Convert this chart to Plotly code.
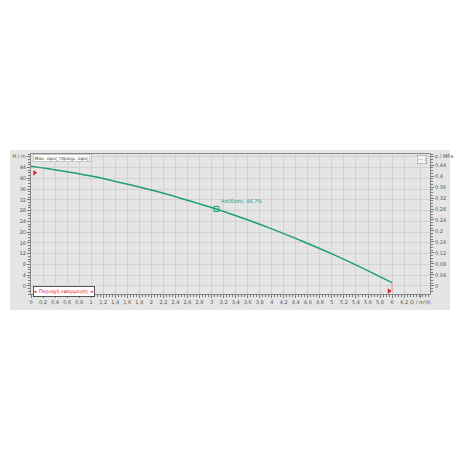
import plotly.graph_objects as go

# data
q_vals = [0, 0.5, 1.0, 1.5, 2.0, 2.5, 3.0, 3.5, 4.0, 4.5, 5.0, 5.5, 6.0]
h_vals = [44.5, 42.8, 40.8, 38.3, 35.6, 32.5, 29.1, 25.3, 21.2, 16.7, 11.9, 6.7, 1.2]
op_q = [3.08]
op_h = [28.6]
op_label = "Απόδοση: 46,7%"
range_start = [0.06, 42.0]
range_end_q = [6.0, 6.0]
range_end_h = [1.2, -2.0]
x_ticks = [round(0.2 * i, 1) for i in range(32)]
x_ticktext = [f"{v:g}".replace(".", ",") for v in x_ticks]
x_ticks = x_ticks + [6.47]
x_ticktext = x_ticktext + ["Q / m³/h"]
h_ticks = list(range(0, 45, 4)) + [48]
h_ticktext = [str(v) for v in range(0, 45, 4)] + ["H / m"]
p_ticks = [round(0.04 * i, 2) for i in range(12)] + [0.472]
p_ticktext = [f"{v:g}".replace(".", ",") for v in p_ticks[:-1]] + ["p / MPa"]

W, H = 460, 460
L, R, T, B = 31, 30, 154, 166
pw, ph = W - L - R, H - T - B
def px(x):
    return (x - L) / pw
def py(y):
    return (H - B - y) / ph

green = "#1f9e78"
tickfont = dict(family="DejaVu Sans", size=5, color="#555555")

fig = go.Figure()
fig.add_trace(go.Scatter(x=q_vals, y=h_vals, mode="lines",
                         line=dict(color=green, width=1.5, shape="spline"),
                         hoverinfo="skip", showlegend=False))
fig.add_trace(go.Scatter(x=range_end_q, y=range_end_h, mode="lines",
                         line=dict(color="#f08a9a", width=1), showlegend=False))
fig.add_trace(go.Scatter(x=op_q, y=op_h, mode="markers",
                         marker=dict(symbol="square-open", size=5, color=green, line=dict(width=1)),
                         showlegend=False))
fig.add_trace(go.Scatter(x=[range_start[0], 5.95], y=[range_start[1], -1.9], mode="markers",
                         marker=dict(symbol="triangle-right", size=5, color="#e0202a"),
                         showlegend=False))
# invisible trace for the right axis
fig.add_trace(go.Scatter(x=[0], y=[0], yaxis="y2", mode="markers",
                         marker=dict(opacity=0), showlegend=False, hoverinfo="skip"))

fig.add_annotation(x=op_q[0] + 0.04, y=op_h[0] + 0.6, text=op_label, showarrow=False,
                   xanchor="left", yanchor="bottom", font=dict(family="DejaVu Sans", size=5, color=green))
fig.add_annotation(xref="paper", yref="paper", x=px(33), y=py(153.5), text="Μαν. ύψος (πραγμ. ύψος)",
                   showarrow=False, xanchor="left", yanchor="top", bgcolor="white",
                   bordercolor="#999999", borderwidth=0.5, borderpad=1,
                   font=dict(family="DejaVu Sans", size=4.5, color="#444444"))
fig.add_annotation(xref="paper", yref="paper", x=px(33), y=py(296.5), text="▸ Περιοχή εφαρμογής ◂",
                   showarrow=False, xanchor="left", yanchor="bottom", bgcolor="white",
                   bordercolor="#333333", borderwidth=0.8, borderpad=1,
                   font=dict(family="DejaVu Sans", size=5, color="#e0202a"))
fig.add_annotation(xref="paper", yref="paper", x=px(427), y=py(155), text="— |",
                   showarrow=False, xanchor="right", yanchor="top", bgcolor="#f4f4f4",
                   bordercolor="#8a8a8a", borderwidth=0.5, borderpad=1,
                   font=dict(family="DejaVu Sans", size=4.5, color=green))

fig.add_shape(type="rect", xref="paper", yref="paper", x0=px(10), x1=px(450), y0=py(310), y1=py(150),
              fillcolor="#e5e5e5", line=dict(width=0), layer="below")

axis_common = dict(showline=True, linecolor="#8a8a8a", linewidth=1, ticks="outside",
                   ticklen=3, tickcolor="#777777", tickfont=tickfont, zeroline=False,
                   automargin=False, tickangle=0)
fig.update_layout(
    width=W, height=H, margin=dict(l=L, r=R, t=T, b=B, autoexpand=False),
    paper_bgcolor="white", plot_bgcolor="#ececec",
    xaxis=dict(range=[0, 6.63], tickmode="array", tickvals=x_ticks, ticktext=x_ticktext,
               showgrid=True, gridcolor="#d2d2d2", gridwidth=1, mirror=True,
               minor=dict(dtick=0.05, tick0=0, ticklen=2, tickcolor="#777777", ticks="outside", showgrid=False),
               **axis_common),
    yaxis=dict(range=[-3, 49], tickmode="array", tickvals=h_ticks, ticktext=h_ticktext,
               showgrid=True, gridcolor="#d2d2d2", gridwidth=1, mirror=True,
               minor=dict(dtick=1, tick0=0, ticklen=2, tickcolor="#777777", ticks="outside", showgrid=False),
               **axis_common),
    yaxis2=dict(range=[-0.0294, 0.4802], overlaying="y", side="right", tickmode="array",
                tickvals=p_ticks, ticktext=p_ticktext, showgrid=False,
                minor=dict(dtick=0.01, tick0=0, ticklen=2, tickcolor="#777777", ticks="outside", showgrid=False),
                **axis_common),
    showlegend=False,
)
fig.write_html("out.html", config={"displayModeBar": False},
               post_script="document.body.style.margin='0';")
